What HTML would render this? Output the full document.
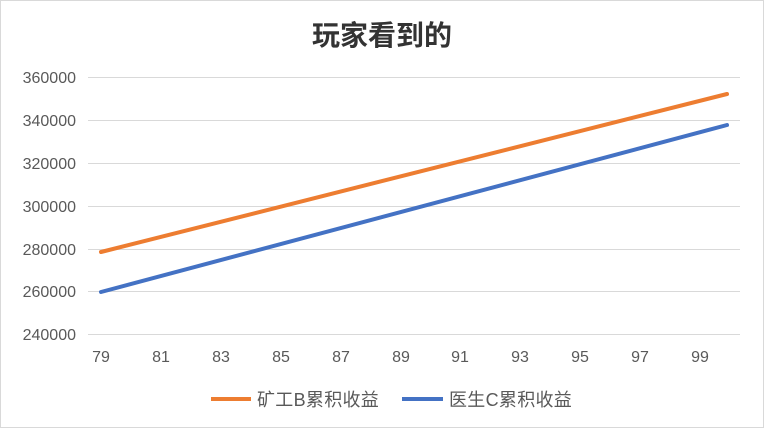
<!DOCTYPE html>
<html><head><meta charset="utf-8"><style>
html,body{margin:0;padding:0;background:#fff;}
svg{display:block;font-family:"Liberation Sans","Noto Sans CJK SC",sans-serif;}
</style></head><body>
<svg width="764" height="428" viewBox="0 0 764 428" xmlns="http://www.w3.org/2000/svg">
<rect x="0.5" y="0.5" width="763" height="427" fill="#fff" stroke="#d9d9d9"/>
<text x="382" y="45" text-anchor="middle" font-size="28" font-weight="bold" fill="#333">玩家看到的</text>
<g stroke="#d9d9d9" stroke-width="1">
<line x1="88" x2="740" y1="77.5" y2="77.5"/>
<line x1="88" x2="740" y1="120.5" y2="120.5"/>
<line x1="88" x2="740" y1="163.5" y2="163.5"/>
<line x1="88" x2="740" y1="206.5" y2="206.5"/>
<line x1="88" x2="740" y1="249.5" y2="249.5"/>
<line x1="88" x2="740" y1="291.5" y2="291.5"/>
<line x1="88" x2="740" y1="334.5" y2="334.5"/>
</g>
<g font-size="16" fill="#595959" text-anchor="end">
<text x="76" y="83">360000</text>
<text x="76" y="126">340000</text>
<text x="76" y="169">320000</text>
<text x="76" y="212">300000</text>
<text x="76" y="255">280000</text>
<text x="76" y="297">260000</text>
<text x="76" y="340">240000</text>
</g>
<g font-size="16" fill="#595959" text-anchor="middle">
<text x="101" y="362">79</text>
<text x="161" y="362">81</text>
<text x="221" y="362">83</text>
<text x="281" y="362">85</text>
<text x="341" y="362">87</text>
<text x="401" y="362">89</text>
<text x="460" y="362">91</text>
<text x="520" y="362">93</text>
<text x="580" y="362">95</text>
<text x="640" y="362">97</text>
<text x="700" y="362">99</text>
</g>
<line x1="101" y1="252" x2="727" y2="94" stroke="#ed7d31" stroke-width="4" stroke-linecap="round"/>
<line x1="101" y1="292" x2="727" y2="125" stroke="#4472c4" stroke-width="4" stroke-linecap="round"/>
<line x1="211" y1="399" x2="251" y2="399" stroke="#ed7d31" stroke-width="4"/>
<text x="257" y="406" font-size="18" letter-spacing="0.3" fill="#595959">矿工B累积收益</text>
<line x1="402" y1="399" x2="443" y2="399" stroke="#4472c4" stroke-width="4"/>
<text x="449" y="406" font-size="18" letter-spacing="0.3" fill="#595959">医生C累积收益</text>
</svg>
</body></html>
